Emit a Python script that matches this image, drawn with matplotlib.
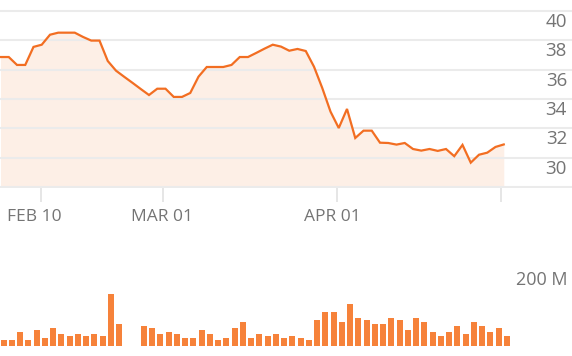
import matplotlib
matplotlib.use("Agg")
import matplotlib.pyplot as plt
import matplotlib.transforms as mtransforms
import numpy as np

# ---- data ----
price = [36.86, 36.86, 36.32, 36.32, 37.55, 37.70, 38.38, 38.52, 38.52, 38.52,
         38.23, 37.98, 37.98, 36.59, 35.93, 35.51, 35.10, 34.68, 34.27, 34.70,
         34.70, 34.14, 34.14, 34.41, 35.52, 36.18, 36.18, 36.18, 36.32, 36.86,
         36.86, 37.14, 37.43, 37.70, 37.57, 37.29, 37.41, 37.27, 36.20, 34.75,
         33.14, 32.02, 33.32, 31.34, 31.84, 31.84, 31.02, 31.00, 30.89, 31.00,
         30.59, 30.48, 30.59, 30.46, 30.59, 30.10, 30.87, 29.66, 30.20, 30.34,
         30.73, 30.90]
volume_m = [16, 16, 36, 16, 42, 21, 47, 31, 26, 31,
            26, 31, 26, 135, 57, 0, 0, 52, 47, 31,
            36, 31, 21, 21, 42, 31, 16, 21, 47, 62,
            21, 31, 26, 31, 21, 26, 21, 16, 68, 88,
            88, 62, 109, 73, 68, 57, 57, 73, 68, 42,
            73, 62, 36, 26, 36, 52, 31, 62, 52, 36,
            47, 26]
price_ticks = [28, 30, 32, 34, 36, 38, 40]
price_tick_labels = ["", "30", "32", "34", "36", "38", "40"]
date_tick_pos = [4.87, 19.66, 40.75, 60.67]
date_tick_labels = ["FEB 10", "MAR 01", "APR 01", ""]
volume_label_value = 200
volume_label = "200 M"

W, H = 572, 356
fig = plt.figure(figsize=(W / 100, H / 100), dpi=100)
plt.rcParams['font.family'] = ['Open Sans', 'DejaVu Sans']

px_per_idx = 8.25
x_left = -0.5 / px_per_idx
x_right = (W - 0.5) / px_per_idx
idx = np.arange(len(price))

line_col = '#f26e22'
fill_col = '#fdefe6'
bar_col = '#f6823a'
grid_col = '#ebebeb'
text_col = '#747474'

# ---- price axes ----
px_per_unit = 14.67
ax_h_px = 188
ax = fig.add_axes([0, (H - ax_h_px) / H, 1, ax_h_px / H])
ax.set_xlim(x_left, x_right)
ax.set_ylim(28 - 1 / px_per_unit, 28 + 187 / px_per_unit)
for s in ax.spines.values():
    s.set_visible(False)
ax.set_axisbelow(True)
ax.set_yticks(price_ticks)
ax.yaxis.grid(True, color=grid_col, linewidth=1.5, zorder=1)
ax.tick_params(axis='y', length=0, labelleft=False)
ax.fill_between(idx, price, 28, color=fill_col, zorder=0.2, linewidth=0)
ax.plot(idx, price, color=line_col, linewidth=1.6, zorder=3, solid_joinstyle='miter')

trans = mtransforms.blended_transform_factory(ax.transAxes, ax.transData)
off = mtransforms.ScaledTranslation(0, -2 / 100, fig.dpi_scale_trans)
for v, lab in zip(price_ticks, price_tick_labels):
    if lab:
        ax.text(1 - 5 / W, v, lab, ha='right', va='top', fontsize=13.5,
                color=text_col, transform=trans + off)

ax.set_xticks(date_tick_pos)
ax.set_xticklabels(date_tick_labels)
ax.tick_params(axis='x', direction='out', length=10, width=1.4, color='#e6e6e6',
               labelsize=12.5, labelcolor=text_col, pad=5)
label_shift = [-6, -1, -4, 0]
for lab, dx in zip(ax.get_xticklabels(), label_shift):
    lab.set_transform(lab.get_transform() +
                      mtransforms.ScaledTranslation(dx / 100, 0, fig.dpi_scale_trans))

# ---- volume axes ----
vol_px_per_m = 77 / 200
vax_h_px = 90
vax = fig.add_axes([0, 10 / H, 1, vax_h_px / H])
vax.set_xlim(x_left, x_right)
vax.set_ylim(0, vax_h_px / vol_px_per_m)
vax.axis('off')
vax.bar(idx, volume_m, width=6 / px_per_idx, align='edge', color=bar_col, linewidth=0)
vtrans = mtransforms.blended_transform_factory(vax.transAxes, vax.transData)
voff = mtransforms.ScaledTranslation(0, -2 / 100, fig.dpi_scale_trans)
vax.text(1 - 5 / W, volume_label_value, volume_label, ha='right', va='top',
         fontsize=13, color=text_col, transform=vtrans + voff)

fig.savefig('out.png', dpi=100)
